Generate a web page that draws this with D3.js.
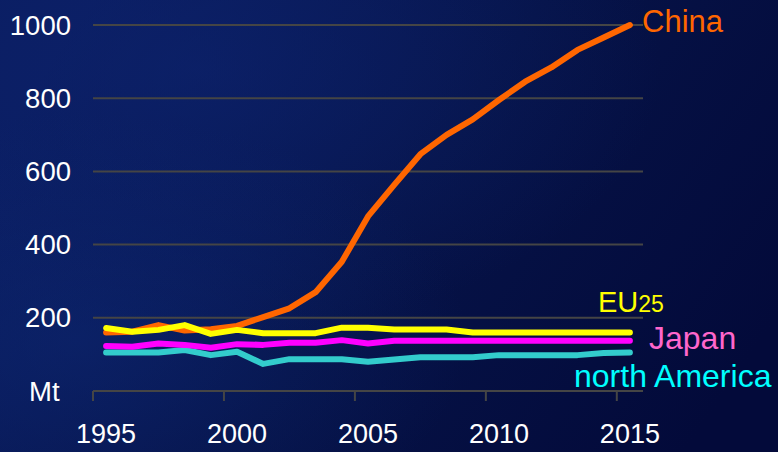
<!DOCTYPE html>
<html>
<head>
<meta charset="utf-8">
<script src="https://cdn.jsdelivr.net/npm/d3@7"></script>
<style>
html,body{margin:0;padding:0;background:#04103f;}
svg{display:block;}
text{font-family:"Liberation Sans",Arial,sans-serif;}
</style>
</head>
<body>
<svg id="chart" width="778" height="452"></svg>
<script>
const years = [1995,1996,1997,1998,1999,2000,2001,2002,2003,2004,2005,2006,2007,2008,2009,2010,2011,2012,2013,2014,2015];
const china   = [160,162,180,165,169,178,202,226,270,353,477,563,647,700,742,795,845,884,932,966,1000];
const eu25    = [172,162,167,180,156,167,158,158,158,173,173,168,168,168,160,160,160,160,160,160,160];
const japan   = [123,121,130,126,118,128,126,132,132,139,130,137,137,137,137,137,137,137,137,137,137];
const northAm = [105,105,105,112,98,107,74,87,87,87,80,86,92,92,92,98,98,98,98,104,105];
const yTicks = [200,400,600,800,1000];
const xTickLabels = [1995,2000,2005,2010,2015];
const seriesNames = ["China","EU25","Japan","north America"];

const svg = d3.select("#chart");
const W = 778, H = 452;

// background
const defs = svg.append("defs");
const lg = defs.append("linearGradient").attr("id","bg").attr("x1","0").attr("y1","0.3").attr("x2","1").attr("y2","0.7");
lg.append("stop").attr("offset","0").attr("stop-color","#0a1c5f");
lg.append("stop").attr("offset","0.5").attr("stop-color","#061348");
lg.append("stop").attr("offset","1").attr("stop-color","#030a3a");
const rg = defs.append("radialGradient").attr("id","glow").attr("cx","0.25").attr("cy","0.15").attr("r","0.6");
rg.append("stop").attr("offset","0").attr("stop-color","#0d2470").attr("stop-opacity",0.6);
rg.append("stop").attr("offset","1").attr("stop-color","#0d2470").attr("stop-opacity",0);
const rg2 = defs.append("radialGradient").attr("id","glow2").attr("cx","0.1").attr("cy","0.75").attr("r","0.5");
rg2.append("stop").attr("offset","0").attr("stop-color","#0e2a78").attr("stop-opacity",0.5);
rg2.append("stop").attr("offset","1").attr("stop-color","#0e2a78").attr("stop-opacity",0);
svg.append("rect").attr("width",W).attr("height",H).attr("fill","url(#bg)");
svg.append("rect").attr("width",W).attr("height",H).attr("fill","url(#glow)");
svg.append("rect").attr("width",W).attr("height",H).attr("fill","url(#glow2)");

const x = d3.scaleBand().domain(years).range([93,643]);
const y = d3.scaleLinear().domain([0,1000]).range([391,25]);
const cx = d => x(d) + x.bandwidth()/2;

// gridlines
svg.append("g").selectAll("line").data(yTicks).join("line")
  .attr("x1",93).attr("x2",643)
  .attr("y1",d=>y(d)).attr("y2",d=>y(d))
  .attr("stroke","#454545").attr("stroke-width",2);

// y labels
svg.append("g").selectAll("text").data(yTicks).join("text")
  .attr("x",71).attr("y",d=>y(d)).attr("dy","0.35em")
  .attr("text-anchor","end").attr("fill","#ffffff").attr("font-size",27.5)
  .text(d=>d);
svg.append("text").attr("x",29).attr("y",y(0)).attr("dy","0.35em")
  .attr("fill","#ffffff").attr("font-size",27.5).text("Mt");

// x axis line and ticks
svg.append("line").attr("x1",93).attr("x2",643).attr("y1",y(0)).attr("y2",y(0))
  .attr("stroke","#454545").attr("stroke-width",2);
svg.append("g").selectAll("line").data(xTickLabels).join("line")
  .attr("x1",d=>x(d)).attr("x2",d=>x(d)).attr("y1",y(0)).attr("y2",y(0)+10)
  .attr("stroke","#454545").attr("stroke-width",2);
svg.append("g").selectAll("text").data(xTickLabels).join("text")
  .attr("x",d=>cx(d)).attr("y",443).attr("text-anchor","middle")
  .attr("fill","#ffffff").attr("font-size",27).text(d=>d);

// lines
const series = [
  {name:seriesNames[3], values:northAm, color:"#33cccc"},
  {name:seriesNames[2], values:japan,   color:"#ff00ff"},
  {name:seriesNames[0], values:china,   color:"#ff6600"},
  {name:seriesNames[1], values:eu25,    color:"#ffff00"}
];
const line = d3.line().x((d,i)=>cx(years[i])).y(d=>y(d));
svg.append("g").selectAll("path").data(series).join("path")
  .attr("d",s=>line(s.values))
  .attr("fill","none").attr("stroke",s=>s.color)
  .attr("stroke-width",6).attr("stroke-linecap","round").attr("stroke-linejoin","round");

// labels
svg.append("text").attr("x",642).attr("y",32).attr("fill","#ff6600").attr("font-size",31).text(seriesNames[0]);
const eu = svg.append("text").attr("x",598).attr("y",312).attr("fill","#ffff00").attr("font-size",29);
eu.append("tspan").text("EU");
eu.append("tspan").attr("font-size",23).text("25");
svg.append("text").attr("x",649).attr("y",349).attr("fill","#ff66cc").attr("font-size",32).text(seriesNames[2]);
svg.append("text").attr("x",574).attr("y",387).attr("fill","#00ffff").attr("font-size",32).text(seriesNames[3]);
</script>
</body>
</html>
